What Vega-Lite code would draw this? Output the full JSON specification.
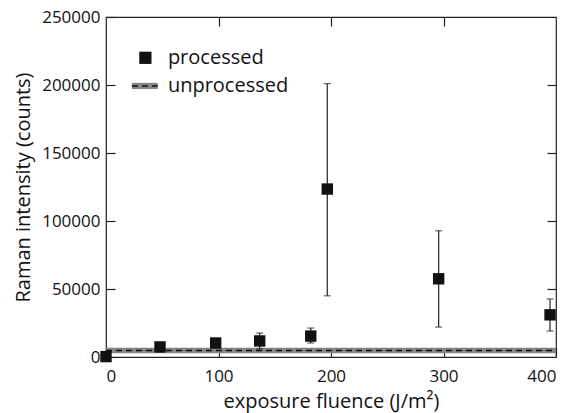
{
  "$schema": "https://vega.github.io/schema/vega-lite/v6.json",
  "width": 450,
  "height": 340,
  "autosize": "none",
  "padding": {"left": 106, "top": 17, "right": 15, "bottom": 56},
  "background": "white",
  "config": {
    "view": {"stroke": "#222", "strokeWidth": 1.2},
    "axis": {
      "labelFont": "Open Sans", "titleFont": "Open Sans",
      "labelFontSize": 17, "titleFontSize": 20,
      "labelColor": "#111", "titleColor": "#111", "titleFontWeight": "normal",
      "grid": false, "domain": false, "tickColor": "#222", "tickSize": -9, "tickWidth": 1.2,
      "format": "d"
    }
  },
  "datasets": {
    "points": [
      {"fluence": 0, "intensity": 300, "lo": 300, "hi": 300},
      {"fluence": 48, "intensity": 7400, "lo": 7400, "hi": 7400},
      {"fluence": 97.5, "intensity": 10300, "lo": 10300, "hi": 10300},
      {"fluence": 136.6, "intensity": 11800, "lo": 5900, "hi": 17600},
      {"fluence": 182, "intensity": 15400, "lo": 10300, "hi": 21300},
      {"fluence": 196.7, "intensity": 123500, "lo": 45000, "hi": 201000},
      {"fluence": 295.7, "intensity": 57500, "lo": 22000, "hi": 92800},
      {"fluence": 394.7, "intensity": 31000, "lo": 19100, "hi": 42700}
    ],
    "unprocessed": [{"x": 0, "x2": 400, "lo": 2700, "hi": 6800, "mean": 4750}],
    "legendBand": [{"x": 23, "x2": 46, "lo": 197000, "hi": 201600, "mean": 199300}],
    "legendPoint": [{"x": 35, "y": 220000}],
    "legendText": [
      {"x": 55, "y": 220000, "label": "processed"},
      {"x": 55, "y": 199300, "label": "unprocessed"}
    ]
  },
  "layer": [
    {
      "data": {"name": "unprocessed"},
      "mark": {"type": "rect", "color": "#858585"},
      "encoding": {
        "x": {"field": "x", "type": "quantitative", "scale": {"domain": [0, 400], "nice": false, "zero": false},
              "axis": {"orient": "bottom", "values": [0, 100, 200, 300, 400], "title": "exposure fluence (J/m²)", "labelPadding": 20, "titleY": 34}},
        "x2": {"field": "x2"},
        "y": {"field": "lo", "type": "quantitative", "scale": {"domain": [0, 250000], "nice": false},
              "axis": {"orient": "left", "values": [0, 50000, 100000, 150000, 200000, 250000], "title": "Raman intensity (counts)", "labelPadding": 15, "titleX": -73}},
        "y2": {"field": "hi"}
      }
    },
    {
      "data": {"name": "unprocessed"},
      "mark": {"type": "rule", "color": "#111", "strokeWidth": 1.5, "strokeDash": [6, 4]},
      "encoding": {
        "x": {"field": "x", "type": "quantitative", "axis": {"orient": "top", "values": [100, 200, 300], "labels": false, "title": null}},
        "x2": {"field": "x2"},
        "y": {"field": "mean", "type": "quantitative", "axis": {"orient": "right", "values": [50000, 100000, 150000, 200000], "labels": false, "title": null}}
      }
    },
    {
      "data": {"name": "points"},
      "mark": {"type": "rule", "color": "#222", "strokeWidth": 1.2},
      "encoding": {
        "x": {"field": "fluence", "type": "quantitative", "axis": null},
        "y": {"field": "lo", "type": "quantitative", "axis": null},
        "y2": {"field": "hi"}
      }
    },
    {
      "data": {"name": "points"},
      "mark": {"type": "tick", "orient": "horizontal", "color": "#222", "size": 7, "thickness": 1.2},
      "encoding": {
        "x": {"field": "fluence", "type": "quantitative", "axis": null},
        "y": {"field": "lo", "type": "quantitative", "axis": null}
      }
    },
    {
      "data": {"name": "points"},
      "mark": {"type": "tick", "orient": "horizontal", "color": "#222", "size": 7, "thickness": 1.2},
      "encoding": {
        "x": {"field": "fluence", "type": "quantitative", "axis": null},
        "y": {"field": "hi", "type": "quantitative", "axis": null}
      }
    },
    {
      "data": {"name": "points"},
      "mark": {"type": "point", "shape": "square", "filled": true, "color": "#111", "size": 130, "opacity": 1},
      "encoding": {
        "x": {"field": "fluence", "type": "quantitative", "axis": null},
        "y": {"field": "intensity", "type": "quantitative", "axis": null}
      }
    },
    {
      "data": {"name": "legendBand"},
      "mark": {"type": "rect", "color": "#858585"},
      "encoding": {
        "x": {"field": "x", "type": "quantitative", "axis": null},
        "x2": {"field": "x2"},
        "y": {"field": "lo", "type": "quantitative", "axis": null},
        "y2": {"field": "hi"}
      }
    },
    {
      "data": {"name": "legendBand"},
      "mark": {"type": "rule", "color": "#111", "strokeWidth": 1.5, "strokeDash": [6, 4]},
      "encoding": {
        "x": {"field": "x", "type": "quantitative", "axis": null},
        "x2": {"field": "x2"},
        "y": {"field": "mean", "type": "quantitative", "axis": null}
      }
    },
    {
      "data": {"name": "legendPoint"},
      "mark": {"type": "point", "shape": "square", "filled": true, "color": "#111", "size": 150, "opacity": 1},
      "encoding": {
        "x": {"field": "x", "type": "quantitative", "axis": null},
        "y": {"field": "y", "type": "quantitative", "axis": null}
      }
    },
    {
      "data": {"name": "legendText"},
      "mark": {"type": "text", "font": "Open Sans", "fontSize": 20, "align": "left", "baseline": "middle", "color": "#111"},
      "encoding": {
        "x": {"field": "x", "type": "quantitative", "axis": null},
        "y": {"field": "y", "type": "quantitative", "axis": null},
        "text": {"field": "label"}
      }
    }
  ],
  "resolve": {"axis": {"x": "independent", "y": "independent"}}
}
